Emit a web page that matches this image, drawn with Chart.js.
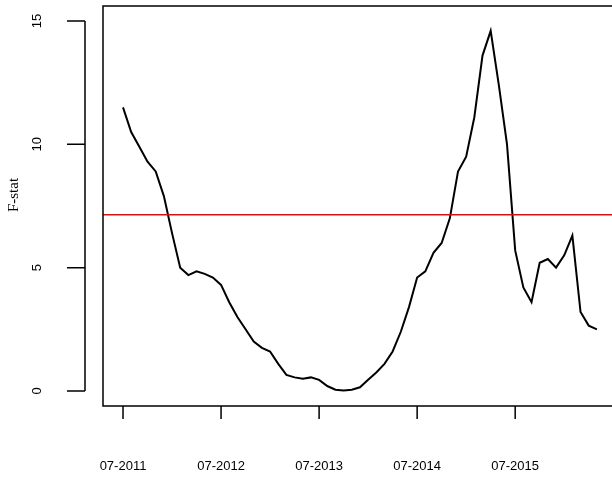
<!DOCTYPE html>
<html>
<head>
<script src="https://cdn.jsdelivr.net/npm/chart.js@4"></script>
<style>
  body { margin: 0; background: #fff; }
  #wrap { width: 612px; height: 483px; }
</style>
</head>
<body>
<div id="wrap"><canvas id="c"></canvas></div>
<script>
// months since 07-2011
const fstat = [11.5, 10.5, 9.9, 9.3, 8.9, 7.9, 6.4, 5.0, 4.7, 4.85,
  4.75, 4.6, 4.3, 3.6, 3.0, 2.5, 2.0, 1.75, 1.6, 1.1,
  0.65, 0.55, 0.5, 0.55, 0.45, 0.2, 0.05, 0.02, 0.05, 0.15,
  0.45, 0.75, 1.1, 1.6, 2.4, 3.4, 4.6, 4.85, 5.6, 6.0,
  7.0, 8.9, 9.5, 11.1, 13.6, 14.6, 12.4, 10.0, 5.7, 4.2,
  3.6, 5.2, 5.35, 5.0, 5.5, 6.3, 3.2, 2.65, 2.5];
const threshold = 7.15;
const xTicks = [0, 12, 24, 36, 48];
const xLabels = ['07-2011', '07-2012', '07-2013', '07-2014', '07-2015'];
const yTicks = [0, 5, 10, 15];

const axesPlugin = {
  id: 'rAxes',
  afterDatasetsDraw(chart) {
    const { ctx, scales: { x, y }, chartArea } = chart;
    ctx.save();
    // threshold line
    ctx.strokeStyle = '#ff0000';
    ctx.lineWidth = 1.5;
    const ty = y.getPixelForValue(threshold);
    ctx.beginPath(); ctx.moveTo(chartArea.left, ty); ctx.lineTo(chartArea.right, ty); ctx.stroke();

    ctx.strokeStyle = '#000';
    ctx.lineWidth = 1.5;
    ctx.fillStyle = '#000';
    // plot box
    ctx.strokeRect(chartArea.left, chartArea.top, chartArea.right - chartArea.left + 5, chartArea.bottom - chartArea.top);
    // x ticks
    const xa = chartArea.bottom;
    ctx.beginPath();
    xTicks.forEach(t => {
      const px = x.getPixelForValue(t);
      ctx.moveTo(px, xa); ctx.lineTo(px, xa + 13);
    });
    ctx.stroke();
    ctx.font = '13px "Liberation Sans", Arial';
    ctx.textAlign = 'center';
    ctx.textBaseline = 'middle';
    xTicks.forEach((t, i) => ctx.fillText(xLabels[i], x.getPixelForValue(t), 466));

    // y axis
    const ya = 85;
    ctx.beginPath();
    ctx.moveTo(ya, y.getPixelForValue(yTicks[0]));
    ctx.lineTo(ya, y.getPixelForValue(yTicks[yTicks.length - 1]));
    yTicks.forEach(t => {
      const py = y.getPixelForValue(t);
      ctx.moveTo(ya, py); ctx.lineTo(ya - 18, py);
    });
    ctx.stroke();
    yTicks.forEach(t => {
      ctx.save();
      ctx.translate(37, y.getPixelForValue(t));
      ctx.rotate(-Math.PI / 2);
      ctx.fillText(String(t), 0, 0);
      ctx.restore();
    });
    ctx.save();
    ctx.font = '15px "Liberation Serif", serif';
    ctx.translate(14, 195);
    ctx.rotate(-Math.PI / 2);
    ctx.fillText('F-stat', 0, 0);
    ctx.restore();
    ctx.restore();
  }
};

new Chart(document.getElementById('c'), {
  type: 'line',
  data: {
    datasets: [{
      data: fstat.map((v, i) => ({ x: i, y: v })),
      borderColor: '#000',
      borderWidth: 2,
      pointRadius: 0,
      tension: 0
    }]
  },
  options: {
    responsive: true,
    maintainAspectRatio: false,
    animation: false,
    layout: { padding: { left: 103, right: 0, top: 6, bottom: 77 } },
    plugins: { legend: { display: false }, tooltip: { enabled: false } },
    scales: {
      x: { type: 'linear', min: -2.45, max: 59.85, display: false },
      y: { min: -0.61, max: 15.61, display: false }
    }
  },
  plugins: [axesPlugin]
});
</script>
</body>
</html>
